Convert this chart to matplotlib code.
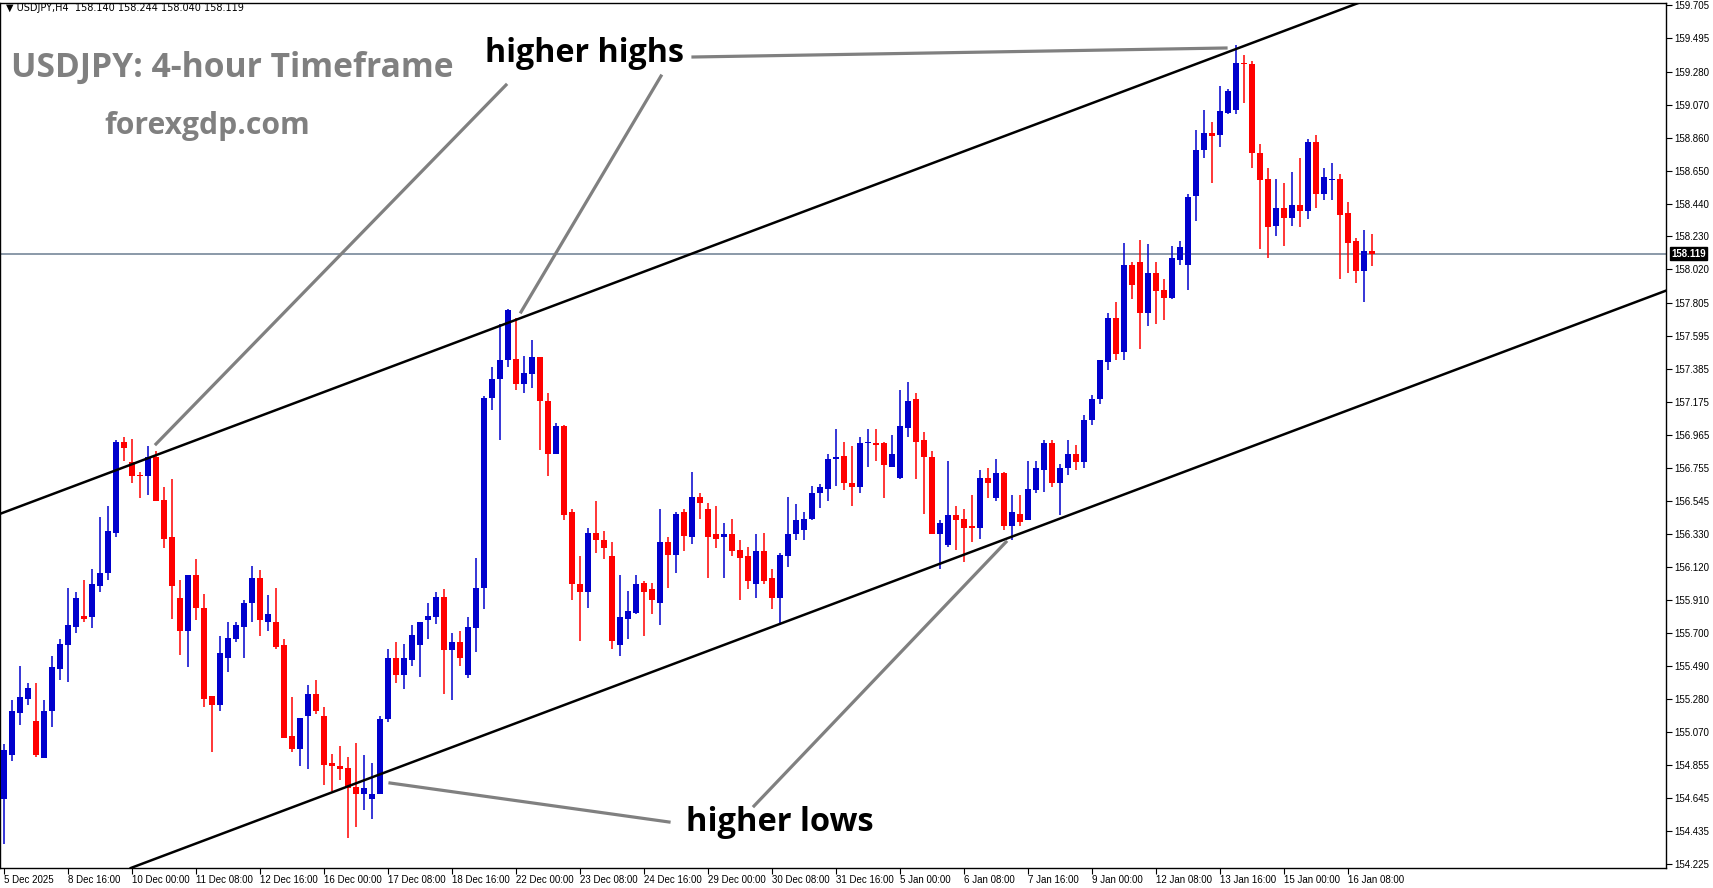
import numpy as np
import matplotlib
matplotlib.use('Agg')
from matplotlib import pyplot as plt
from matplotlib.lines import Line2D

W, H = 1713, 888

opens = [154.64, 154.92, 155.19, 155.28, 155.14, 154.90, 155.20, 155.47, 155.62, 155.74,
         155.81, 155.80, 156.00, 156.08, 156.34, 156.92, 156.79, 156.71, 156.70, 156.82,
         156.55, 156.31, 155.92, 155.71, 156.07, 155.86, 155.30, 155.24, 155.54, 155.66,
         155.74, 155.89, 156.05, 155.77, 155.77, 155.62, 155.04, 154.96, 155.17, 155.31,
         155.17, 154.87, 154.85, 154.84, 154.72, 154.67, 154.64, 154.67, 155.15, 155.54,
         155.43, 155.53, 155.62, 155.78, 155.80, 155.93, 155.59, 155.64, 155.43, 155.73,
         155.99, 157.20, 157.32, 157.44, 157.45, 157.29, 157.35, 157.46, 157.18, 156.84,
         157.02, 156.47, 156.01, 155.96, 156.34, 156.29, 156.19, 155.62, 155.79, 155.83,
         156.02, 155.98, 155.89, 156.28, 156.20, 156.47, 156.31, 156.57, 156.49, 156.33,
         156.31, 156.33, 156.23, 156.19, 156.01, 156.22, 156.05, 155.92, 156.19, 156.33,
         156.36, 156.43, 156.59, 156.62, 156.81, 156.83, 156.66, 156.63, 156.91, 156.91,
         156.91, 156.76, 156.69, 157.01, 157.19, 156.93, 156.82, 156.33, 156.26, 156.45,
         156.43, 156.38, 156.37, 156.69, 156.56, 156.72, 156.38, 156.46, 156.42, 156.61,
         156.74, 156.91, 156.66, 156.75, 156.84, 156.79, 157.06, 157.19, 157.43, 157.71,
         157.49, 158.05, 158.07, 157.74, 158.00, 157.89, 157.84, 158.08, 158.05, 158.49,
         158.78, 158.89, 158.88, 159.02, 159.04, 159.34, 159.33, 158.76, 158.60, 158.30,
         158.41, 158.35, 158.43, 158.39, 158.83, 158.50, 158.59, 158.60, 158.38, 158.20,
         158.01, 158.140]
highs = [154.99, 155.27, 155.49, 155.38, 155.38, 155.27, 155.55, 155.66, 155.99, 155.96,
         156.04, 156.11, 156.44, 156.51, 156.93, 156.95, 156.94, 156.73, 156.89, 156.86,
         156.63, 156.68, 156.04, 156.07, 156.17, 155.95, 155.30, 155.68, 155.77, 155.77,
         155.91, 156.13, 156.10, 155.94, 155.99, 155.66, 155.29, 155.16, 155.37, 155.40,
         155.23, 154.93, 154.98, 154.91, 155.00, 154.92, 154.87, 155.17, 155.60, 155.64,
         155.63, 155.75, 155.77, 155.89, 155.96, 155.98, 155.70, 155.71, 155.80, 156.18,
         157.21, 157.40, 157.67, 157.77, 157.71, 157.47, 157.57, 157.46, 157.23, 157.04,
         157.03, 156.49, 156.19, 156.37, 156.54, 156.35, 156.28, 156.07, 155.97, 156.07,
         156.03, 156.02, 156.49, 156.31, 156.47, 156.49, 156.73, 156.59, 156.53, 156.51,
         156.40, 156.43, 156.29, 156.25, 156.33, 156.34, 156.11, 156.21, 156.57, 156.52,
         156.47, 156.64, 156.65, 156.84, 157.00, 156.92, 156.89, 156.95, 157.00, 157.00,
         156.92, 156.96, 157.25, 157.30, 157.23, 156.98, 156.86, 156.42, 156.80, 156.51,
         156.49, 156.58, 156.74, 156.75, 156.81, 156.73, 156.58, 156.58, 156.80, 156.80,
         156.93, 156.93, 156.78, 156.93, 156.90, 157.09, 157.22, 157.39, 157.74, 157.81,
         158.19, 158.07, 158.21, 158.18, 158.07, 157.96, 158.17, 158.20, 158.50, 158.91,
         159.04, 158.96, 159.19, 159.17, 159.45, 159.39, 159.35, 158.82, 158.67, 158.60,
         158.57, 158.64, 158.73, 158.85, 158.88, 158.67, 158.70, 158.63, 158.45, 158.22,
         158.27, 158.244]
lows = [154.35, 154.88, 155.11, 155.24, 154.91, 154.90, 155.10, 155.40, 155.39, 155.70,
        155.77, 155.73, 155.96, 156.04, 156.31, 156.80, 156.66, 156.56, 156.58, 156.54,
        156.24, 155.79, 155.56, 155.48, 155.78, 155.23, 154.94, 155.20, 155.45, 155.64,
        155.54, 155.77, 155.68, 155.71, 155.60, 155.03, 154.94, 154.85, 154.83, 155.18,
        154.73, 154.69, 154.76, 154.39, 154.46, 154.57, 154.51, 154.67, 155.13, 155.38,
        155.34, 155.49, 155.42, 155.66, 155.76, 155.31, 155.27, 155.49, 155.41, 155.58,
        155.85, 157.12, 156.93, 157.40, 157.25, 157.23, 157.26, 156.87, 156.70, 156.84,
        156.42, 155.91, 155.65, 155.86, 156.21, 156.17, 155.60, 155.55, 155.66, 155.82,
        155.68, 155.82, 155.75, 155.99, 156.08, 156.22, 156.27, 156.43, 156.05, 156.24,
        156.05, 156.19, 155.91, 155.98, 155.92, 156.01, 155.85, 155.75, 156.12, 156.29,
        156.29, 156.42, 156.50, 156.54, 156.64, 156.61, 156.51, 156.59, 156.76, 156.80,
        156.56, 156.76, 156.68, 156.95, 156.68, 156.46, 156.33, 156.11, 156.25, 156.23,
        156.15, 156.28, 156.30, 156.56, 156.54, 156.36, 156.29, 156.38, 156.42, 156.59,
        156.60, 156.63, 156.45, 156.71, 156.74, 156.75, 157.03, 157.16, 157.38, 157.44,
        157.44, 157.83, 157.51, 157.66, 157.67, 157.70, 157.83, 158.05, 157.89, 158.33,
        158.73, 158.57, 158.80, 159.01, 159.01, 159.08, 158.67, 158.15, 158.09, 158.23,
        158.17, 158.30, 158.29, 158.34, 158.41, 158.46, 158.46, 157.96, 158.00, 157.93,
        157.81, 158.040]
closes = [154.95, 155.20, 155.29, 155.35, 154.92, 155.20, 155.48, 155.63, 155.75, 155.92,
          155.79, 156.01, 156.08, 156.35, 156.92, 156.88, 156.70, 156.70, 156.82, 156.54,
          156.30, 156.00, 155.71, 156.07, 155.86, 155.28, 155.24, 155.57, 155.67, 155.75,
          155.89, 156.05, 155.78, 155.82, 155.61, 155.03, 154.96, 155.16, 155.31, 155.20,
          154.86, 154.85, 154.83, 154.71, 154.67, 154.71, 154.67, 155.15, 155.54, 155.43,
          155.54, 155.69, 155.77, 155.81, 155.93, 155.59, 155.64, 155.54, 155.74, 155.99,
          157.20, 157.32, 157.44, 157.76, 157.29, 157.36, 157.46, 157.18, 156.84, 157.02,
          156.45, 156.01, 155.96, 156.34, 156.29, 156.24, 155.65, 155.80, 155.84, 156.01,
          155.96, 155.91, 156.28, 156.20, 156.46, 156.32, 156.57, 156.53, 156.31, 156.30,
          156.33, 156.22, 156.18, 156.03, 156.22, 156.03, 155.92, 156.20, 156.33, 156.42,
          156.43, 156.59, 156.63, 156.81, 156.82, 156.66, 156.63, 156.91, 156.915, 156.90,
          156.77, 156.84, 157.02, 157.18, 156.92, 156.82, 156.33, 156.40, 156.45, 156.42,
          156.37, 156.37, 156.69, 156.66, 156.72, 156.38, 156.47, 156.41, 156.62, 156.75,
          156.91, 156.66, 156.75, 156.84, 156.79, 157.06, 157.19, 157.44, 157.71, 157.48,
          158.05, 157.92, 157.74, 158.00, 157.88, 157.84, 158.09, 158.16, 158.48, 158.78,
          158.89, 158.87, 159.03, 159.16, 159.34, 159.33, 158.76, 158.59, 158.29, 158.41,
          158.35, 158.43, 158.39, 158.83, 158.50, 158.61, 158.60, 158.37, 158.19, 158.01,
          158.14, 158.119]

date_labels = ['5 Dec 2025', '8 Dec 16:00', '10 Dec 00:00', '11 Dec 08:00', '12 Dec 16:00',
               '16 Dec 00:00', '17 Dec 08:00', '18 Dec 16:00', '22 Dec 00:00', '23 Dec 08:00',
               '24 Dec 16:00', '29 Dec 00:00', '30 Dec 08:00', '31 Dec 16:00', '5 Jan 00:00',
               '6 Jan 08:00', '7 Jan 16:00', '9 Jan 00:00', '12 Jan 08:00', '13 Jan 16:00',
               '15 Jan 00:00', '16 Jan 08:00']
price_ticks = [159.705, 159.495, 159.280, 159.070, 158.860, 158.650, 158.440, 158.230,
               158.020, 157.805, 157.595, 157.385, 157.175, 156.965, 156.755, 156.545,
               156.330, 156.120, 155.910, 155.700, 155.490, 155.280, 155.070, 154.855,
               154.645, 154.435, 154.225]
last_price = 158.119

# channel anchors (bar index, price) and slope per bar
upper_anchor = (-0.5, 156.46)
lower_anchor = (25.75, 154.39)
channel_slope = 0.0192

BLUE = '#0000CD'
RED = '#FF0000'

fig = plt.figure(figsize=(W / 100, H / 100), dpi=100)
ax = fig.add_axes([0, 20 / H, 1666 / W, 865 / H])

o = np.array(opens)
c = np.array(closes)
hi = np.array(highs)
lo = np.array(lows)
x = np.arange(len(o))
cols = np.where(c > o, BLUE, RED)

ax.vlines(x, lo, hi, colors=cols, linewidth=1.1, zorder=3)
bottoms = np.minimum(o, c)
heights = np.maximum(np.abs(c - o), 0.008)
ax.bar(x, heights, bottom=bottoms, width=0.64, color=cols, linewidth=0, zorder=4)

ax.axhline(last_price, color='#778899', linewidth=1.2, zorder=2)
ax.axline(upper_anchor, slope=channel_slope, color='black', linewidth=1.8, zorder=5)
ax.axline(lower_anchor, slope=channel_slope, color='black', linewidth=1.8, zorder=5)

ax.set_xlim(-0.5, 207.75)
ax.set_ylim(154.20, 159.72)

ax.yaxis.tick_right()
ax.set_yticks(price_ticks)
ax.set_yticklabels([f'{p:.3f}' for p in price_ticks], fontsize=7, family='Liberation Sans')
ax.set_xticks(np.arange(len(date_labels)) * 8)
ax.set_xticklabels(date_labels, fontsize=7, family='Liberation Sans', ha='left')
ax.tick_params(axis='both', length=4, width=0.8, pad=2, direction='out')
ax.tick_params(axis='x', pad=1)
for s in ax.spines.values():
    s.set_linewidth(1.0)

ax.text(1.003, (last_price - 154.20) / (159.72 - 154.20), f'{last_price:.3f}',
        transform=ax.transAxes, fontsize=7, family='Liberation Sans', color='white',
        fontweight='bold', va='center', ha='left',
        bbox=dict(boxstyle='square,pad=0.15', fc='black', ec='black'))

# header texts
fig.text(6 / W, 1 - 8 / H, '\u25bc USDJPY,H4  158.140 158.244 158.040 158.119', fontsize=7,
         family='DejaVu Sans', va='center', ha='left')
fig.text(11 / W, 1 - 68 / H, 'USDJPY: 4-hour Timeframe', fontsize=24.2, fontweight='bold',
         color='#808080', va='center', ha='left', family='Open Sans')
fig.text(104 / W, 1 - 126 / H, 'forexgdp.com', fontsize=21.7, fontweight='bold',
         color='#808080', va='center', ha='left', family='Open Sans')
fig.text(485 / W, 1 - 53 / H, 'higher highs', fontsize=23.2, fontweight='bold',
         color='black', va='center', ha='left', family='Open Sans')
fig.text(686 / W, 1 - 822 / H, 'higher lows', fontsize=23.5, fontweight='bold',
         color='black', va='center', ha='left', family='Open Sans')

# grey pointer lines (figure pixels, y from top)
pointers = [((506, 85), (156, 444)), ((661, 76), (521, 312)), ((693, 57), (1226, 48)),
            ((669, 822), (390, 783)), ((754, 806), (1006, 542))]
for (x0, y0), (x1, y1) in pointers:
    fig.add_artist(Line2D([x0 / W, x1 / W], [1 - y0 / H, 1 - y1 / H], color='#808080',
                          linewidth=2.3, transform=fig.transFigure))

fig.savefig('out.png', dpi=100)
